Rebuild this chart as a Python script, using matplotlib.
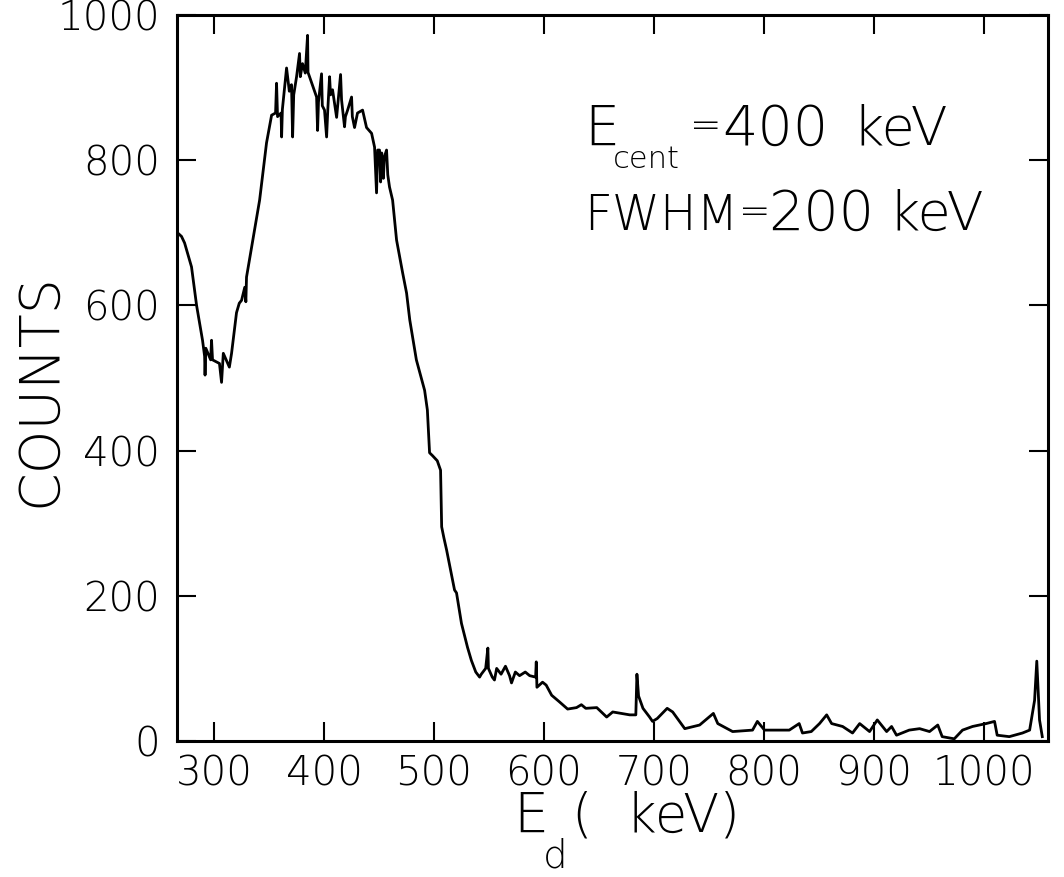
import matplotlib
matplotlib.use("Agg")
import matplotlib.pyplot as plt

# ---- data (energy in keV, counts) ----
energy_kev = [
    266.9, 270.5, 273.3, 279.6, 284.2, 289.6, 291.5, 291.9, 292.6, 297.0,
    297.8, 298.7, 305.0, 306.9, 308.5, 314.0, 316.0, 320.5, 323.0, 325.1,
    328.0, 329.0, 329.6, 336.9, 341.5, 347.8, 352.4, 356.0, 356.9, 357.8,
    361.0, 361.5, 362.2, 366.0, 368.5, 370.5, 371.5, 372.5, 375.1, 377.8,
    378.5, 380.5, 383.0, 385.1, 385.5, 388.7, 393.3, 394.2, 395.0, 397.8,
    398.5, 400.5, 402.4, 403.5, 405.1, 406.0, 407.8, 411.5, 415.1, 416.0,
    418.7, 419.5, 421.5, 425.1, 425.8, 427.8, 430.5, 435.1, 438.7, 443.3,
    446.0, 447.8, 448.8, 450.5, 451.5, 452.5, 454.0, 455.0, 456.9, 458.0,
    459.6, 462.4, 466.0, 471.5, 475.1, 478.0, 484.0, 491.5, 494.0, 496.0,
    498.7, 503.0, 506.0, 507.0, 509.0, 511.5, 518.7, 520.5, 525.0, 530.5,
    534.0, 538.0, 541.5, 543.0, 547.0, 549.0, 549.5, 553.0, 555.0, 557.0,
    561.0, 565.0, 568.7, 570.5, 574.0, 577.8, 583.0, 587.0, 592.4, 593.0,
    593.6, 598.7, 602.0, 607.0, 614.0, 621.5, 629.6, 634.0, 638.0, 648.0,
    657.0, 662.5, 678.0, 683.5, 684.5, 686.0, 690.0, 696.0, 698.7, 703.0,
    712.0, 717.0, 728.0, 741.5, 754.0, 758.0, 771.5, 789.6, 794.0, 800.5,
    823.0, 832.0, 835.0, 843.0, 850.5, 857.0, 861.5, 871.5, 880.5, 887.0,
    896.0, 903.0, 911.5, 916.0, 920.5, 932.0, 941.5, 950.5, 958.0, 962.0,
    973.0, 980.5, 989.6, 1002.0, 1009.6, 1012.0, 1023.0, 1035.0, 1041.5, 1046.0,
    1048.0, 1050.5, 1053.0,
]
counts = [
    700, 695, 686, 653, 600, 552, 530, 504, 541, 525,
    552, 525, 520, 494, 534, 515, 534, 590, 603, 607,
    625, 605, 639, 704, 745, 824, 862, 865, 906, 860,
    865, 832, 870, 927, 895, 904, 832, 890, 915, 947,
    915, 933, 920, 972, 921, 907, 887, 841, 880, 919,
    875, 869, 832, 870, 915, 890, 897, 859, 918, 883,
    846, 860, 869, 887, 860, 845, 865, 869, 845, 837,
    818, 755, 814, 814, 770, 810, 775, 805, 814, 780,
    763, 745, 690, 645, 617, 580, 525, 483, 456, 397,
    393, 386, 373, 295, 280, 263, 208, 204, 162, 129,
    111, 95, 88, 92, 100, 128, 100, 88, 84, 100,
    92, 103, 90, 80, 95, 90, 95, 90, 88, 109,
    74, 81, 77, 63, 54, 44, 46, 50, 45, 46,
    33, 40, 36, 36, 92, 62, 45, 33, 27, 31,
    45, 40, 17, 22, 38, 24, 13, 15, 27, 15,
    15, 24, 11, 13, 24, 36, 24, 20, 11, 24,
    13, 29, 13, 20, 8, 15, 17, 13, 22, 6,
    3, 15, 20, 24, 27, 8, 6, 11, 15, 56,
    110, 29, 6,
]
x_ticks = [300, 400, 500, 600, 700, 800, 900, 1000]
y_ticks = [0, 200, 400, 600, 800, 1000]

plt.rcParams["font.family"] = ["DejaVu Sans"]
plt.rcParams["font.weight"] = "light"

W, H = 1064, 877
fig = plt.figure(figsize=(W / 100, H / 100), dpi=100)
ax = fig.add_axes([177 / W, 1 - 741 / H, (1048 - 177) / W, (741 - 15) / H])

ax.plot(energy_kev, counts, color="black", lw=2.0)
ax.set_xlim(266.4, 1058.2)
ax.set_ylim(0, 1000)
ax.set_xticks(x_ticks)
ax.set_yticks(y_ticks)
ax.tick_params(direction="in", length=14, width=1.5, top=True, right=True,
               labelsize=29, pad=10, colors="black")
ax.tick_params(axis="y", pad=12)
for s in ax.spines.values():
    s.set_linewidth(2.2)

def px(x, y):
    return x / W, 1 - y / H

# y label
fig.text(*px(40, 390), "COUNTS", rotation=90, fontsize=40, ha="center", va="center")

# x label
fig.text(*px(513, 832), "E", fontsize=40, ha="left", va="baseline")
fig.text(*px(543, 868), "d", fontsize=28, ha="left", va="baseline")
fig.text(*px(572, 832), "(  keV)", fontsize=38, ha="left", va="baseline")

# annotation
fig.text(*px(584, 145), "E", fontsize=40, ha="left", va="baseline")
fig.text(*px(613, 168), "cent", fontsize=22, ha="left", va="baseline")
fig.text(*px(690, 137), "=", fontsize=27, ha="left", va="baseline")
fig.text(*px(722, 145), "400", fontsize=40, ha="left", va="baseline")
fig.text(*px(852, 145), "keV", fontsize=39, ha="left", va="baseline")

fig.text(*px(584, 230), "FWHM", fontsize=35, ha="left", va="baseline")
fig.text(*px(739, 223), "=", fontsize=27, ha="left", va="baseline")
fig.text(*px(768, 230), "200", fontsize=40, ha="left", va="baseline")
fig.text(*px(888, 230), "keV", fontsize=39, ha="left", va="baseline")

fig.savefig("out.png", dpi=100)
